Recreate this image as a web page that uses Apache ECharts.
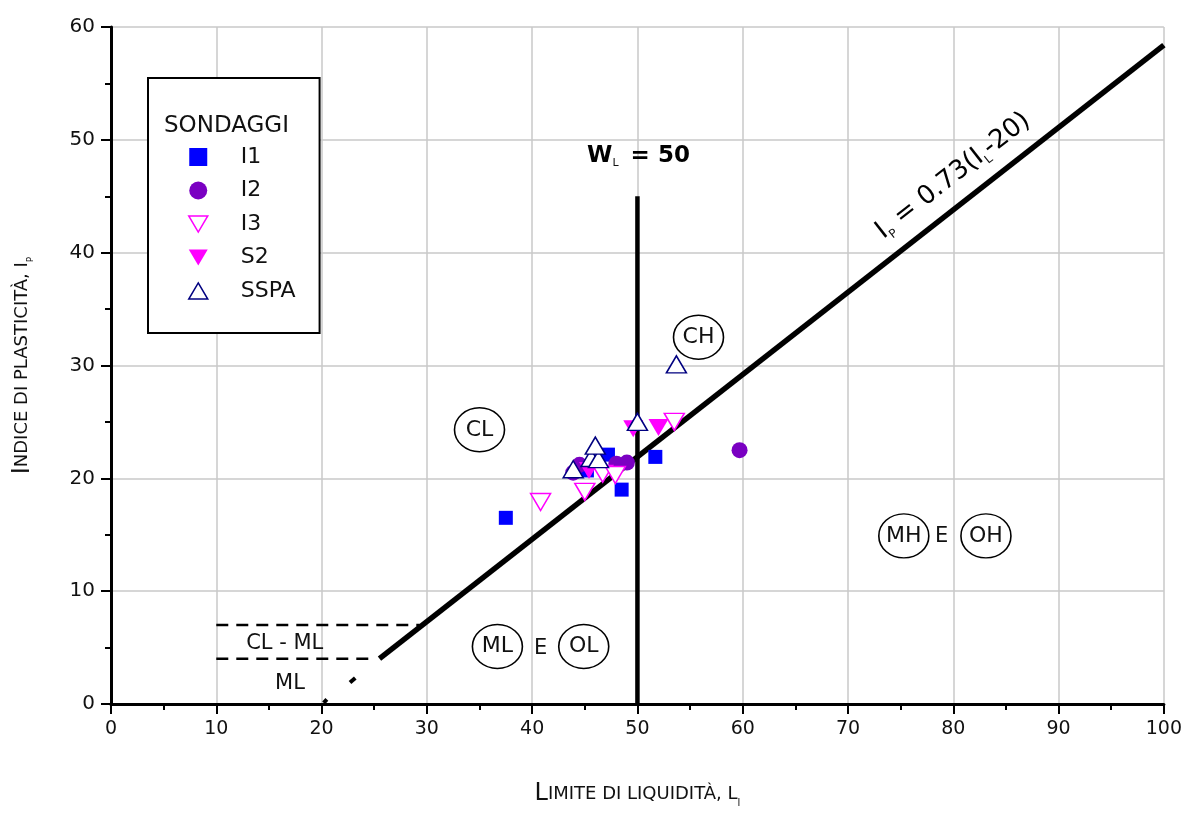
<!DOCTYPE html>
<html>
<head>
<meta charset="utf-8">
<script src="https://cdn.jsdelivr.net/npm/echarts@6/dist/echarts.min.js"></script>
<style>
  html, body { margin: 0; padding: 0; background: #fff; }
  #chart { width: 1185px; height: 814px; }
</style>
</head>
<body>
<div id="chart"></div>
<script>
// sondaggi
var I1 = [[37.5, 16.5], [45.2, 20.7], [47.2, 22.1], [48.5, 19.0], [51.7, 21.9]];
var I2 = [[43.9, 20.5], [44.5, 21.2], [48.0, 21.3], [49.0, 21.4], [59.7, 22.5]];
var I3 = [[40.8, 17.9], [45.0, 18.8], [46.7, 20.4], [47.9, 20.3], [53.5, 25.0]];
var S2 = [[45.4, 20.7], [49.6, 24.4], [52.0, 24.5]];
var SSPA = [[43.9, 20.8], [45.6, 21.8], [46.3, 21.7], [46.0, 22.9], [50.0, 25.0], [53.7, 30.1]];

// carta di Casagrande
var lineaA = [[25.5, 0.73 * (25.5 - 20)], [100, 0.73 * (100 - 20)]];
var lineaWL = [[50, 0], [50, 45]];
var tratt7 = [[10, 7], [29.3, 7]];
var tratt4 = [[10, 4], [25, 4]];
var seg1 = [[22.7, 1.9], [23.2, 2.3]];
var seg2 = [[20.2, 0.1], [20.5, 0.4]];

var zone = [[35, 24.3, 'CL'], [55.8, 32.5, 'CH'], [75.3, 14.9, 'MH'], [83.1, 14.9, 'OH'], [36.7, 5.1, 'ML'], [44.9, 5.1, 'OL']];
var scritte = [[78.9, 14.8, 'E'], [40.8, 4.9, 'E'], [16.5, 5.4, 'CL - ML'], [17, 1.8, 'ML']];

var xTicks = [0, 10, 20, 30, 40, 50, 60, 70, 80, 90, 100];
var yTicks = [0, 10, 20, 30, 40, 50, 60];

var FONT = "'DejaVu Sans', sans-serif";
var TRI_GIU = 'path://M0,0 L20,0 L10,17 Z';
var TRI_SU = 'path://M10,0 L20,17 L0,17 Z';

var myChart = echarts.init(document.getElementById('chart'));

function punti(name, data, symbol, size, fill, border) {
    return {
        name: name,
        type: 'scatter',
        data: data,
        symbol: symbol,
        symbolSize: size,
        z: 5,
        itemStyle: { color: fill, borderColor: border, borderWidth: fill === border ? 0 : 1.5, opacity: 1 }
    };
}

function linea(data, width, type) {
    return {
        type: 'line',
        data: data,
        showSymbol: false,
        symbol: 'none',
        silent: true,
        z: 3,
        lineStyle: { color: '#000', width: width, type: type || 'solid', cap: 'butt' }
    };
}

function testo(data, label, symbol, size, style) {
    return {
        type: 'scatter', silent: true, z: 4,
        data: data,
        symbol: symbol || 'circle',
        symbolSize: size || 0,
        itemStyle: style || { opacity: 1 },
        label: label
    };
}

var option = {
    animation: false,
    backgroundColor: '#fff',
    grid: { left: 111, right: 18, top: 27, bottom: 110 },
    xAxis: {
        type: 'value',
        min: 0, max: 100, interval: 10,
        name: '{a|L}{b|IMITE DI LIQUIDITÀ, L}{s|l}',
        nameLocation: 'middle',
        nameGap: 76,
        nameTextStyle: {
            rich: {
                a: { fontFamily: FONT, fontSize: 24, color: '#111' },
                b: { fontFamily: FONT, fontSize: 18, color: '#111' },
                s: { fontFamily: FONT, fontSize: 10, color: '#111', padding: [18, 0, 0, 0] }
            }
        },
        axisLine: { onZero: false, lineStyle: { color: '#000', width: 3 } },
        axisTick: { inside: false, length: 10, lineStyle: { color: '#000', width: 2 } },
        minorTick: { show: true, splitNumber: 2, length: 6, lineStyle: { color: '#000', width: 2 } },
        splitLine: { show: true, lineStyle: { color: '#c8c8c8', width: 1.5 } },
        axisLabel: {
            margin: 16, fontFamily: FONT, fontSize: 19, color: '#111',
            formatter: function (v) { return xTicks.indexOf(v) >= 0 ? String(v) : ''; }
        }
    },
    yAxis: {
        type: 'value',
        min: 0, max: 60, interval: 10,
        name: '{a|I}{b|NDICE DI PLASTICITÀ, I}{s|P}',
        nameLocation: 'middle',
        nameGap: 76,
        nameTextStyle: {
            rich: {
                a: { fontFamily: FONT, fontSize: 24, color: '#111' },
                b: { fontFamily: FONT, fontSize: 18, color: '#111' },
                s: { fontFamily: FONT, fontSize: 9, color: '#111', padding: [16, 0, 0, 0] }
            }
        },
        axisLine: { onZero: false, lineStyle: { color: '#000', width: 3 } },
        axisTick: { inside: false, length: 10, lineStyle: { color: '#000', width: 2 } },
        minorTick: { show: true, splitNumber: 2, length: 6, lineStyle: { color: '#000', width: 2 } },
        splitLine: { show: true, lineStyle: { color: '#c8c8c8', width: 1.5 } },
        axisLabel: {
            margin: 16, fontFamily: FONT, fontSize: 20, color: '#111',
            formatter: function (v) { return yTicks.indexOf(v) >= 0 ? String(v) : ''; }
        }
    },
    legend: {
        orient: 'vertical',
        left: 148, top: 78,
        padding: [68, 24, 31, 40],
        borderColor: '#000', borderWidth: 2,
        backgroundColor: '#fff',
        itemWidth: 19, itemHeight: 18, itemGap: 11.5,
        textStyle: { fontFamily: FONT, fontSize: 22, color: '#111', padding: [0, 0, 0, 28] },
        data: [
            { name: 'I1', icon: 'path://M0,0 L14,0 L14,14 L0,14 Z', itemStyle: { color: '#0000ff', borderWidth: 0 } },
            { name: 'I2', icon: 'path://M8,0 A8,8 0 1,1 7.99,0 Z', itemStyle: { color: '#7a00c2', borderWidth: 0 } },
            { name: 'I3', icon: TRI_GIU, itemStyle: { color: '#fff', borderColor: '#ff00ff', borderWidth: 1.5 } },
            { name: 'S2', icon: TRI_GIU, itemStyle: { color: '#ff00ff', borderWidth: 0 } },
            { name: 'SSPA', icon: TRI_SU, itemStyle: { color: '#fff', borderColor: '#000080', borderWidth: 1.5 } }
        ]
    },
    graphic: [{
        type: 'text', left: 164, top: 115, z: 100,
        style: { text: 'SONDAGGI', fontFamily: FONT, fontSize: 23, fill: '#111' }
    }],
    series: [
        linea(lineaA, 5.5),
        linea(lineaWL, 4.5),
        linea(tratt7, 2.5, [12, 8]),
        linea(tratt4, 2.5, [12, 8]),
        linea(seg1, 4),
        linea(seg2, 4),
        testo(zone, {
            show: true, position: 'inside', fontFamily: FONT, fontSize: 22, color: '#111',
            formatter: function (p) { return p.data[2]; }
        }, 'circle', [50, 44], { color: 'rgba(255,255,255,0)', borderColor: '#000', borderWidth: 1.5, opacity: 1 }),
        testo(scritte, {
            show: true, position: 'inside', fontFamily: FONT, fontSize: 21, color: '#111',
            formatter: function (p) { return p.data[2]; }
        }),
        testo([[50.1, 48.6]], {
            show: true, position: 'inside',
            formatter: '{w|W}{s|L}{w| = 50}',
            rich: {
                w: { fontFamily: FONT, fontSize: 23, fontWeight: 'bold', color: '#000' },
                s: { fontFamily: FONT, fontSize: 11, color: '#111', padding: [16, 4, 0, 0] }
            }
        }),
        testo([[80.0, 46.8]], {
            show: true, position: 'inside', rotate: 38,
            formatter: '{t|I}{s|P}{t| = 0.73(I}{s|L}{t|-20)}',
            rich: {
                t: { fontFamily: FONT, fontSize: 26, color: '#000' },
                s: { fontFamily: FONT, fontSize: 12, color: '#111', padding: [18, 0, 0, 0] }
            }
        }),
        punti('I1', I1, 'rect', 14, '#0000ff', '#0000ff'),
        punti('I2', I2, 'circle', 16, '#7a00c2', '#7a00c2'),
        punti('I3', I3, TRI_GIU, [20, 17], '#ffffff', '#ff00ff'),
        punti('S2', S2, TRI_GIU, [20, 17], '#ff00ff', '#ff00ff'),
        punti('SSPA', SSPA, TRI_SU, [20, 17], '#ffffff', '#000080')
    ]
};

myChart.setOption(option);
</script>
</body>
</html>
